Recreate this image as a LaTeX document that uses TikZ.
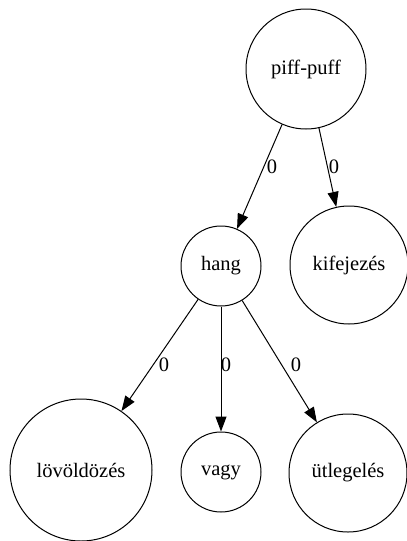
\documentclass[tikz,border=0pt]{standalone}
\usepackage{fontspec}
\setmainfont{Liberation Serif}
\usetikzlibrary{arrows.meta}
\tikzset{
  gnode/.style={draw, circle, line width=1pt, inner sep=0pt, font=\fontsize{20.5}{24}\selectfont},
  gedge/.style={line width=1pt, -{Triangle[length=15pt, width=11pt]}},
  glabel/.style={inner sep=0pt, font=\fontsize{20.5}{24}\selectfont}
}
\begin{document}
\begin{tikzpicture}[x=1pt, y=-1pt]
\useasboundingbox (0,0) rectangle (407,541);
\node[gnode, minimum size=120pt] (pp) at (306,69) {piff-puff};
\node[gnode, minimum size=80pt] (hang) at (221,266) {hang};
\node[gnode, minimum size=118pt] (kif) at (349,265) {kifejezés};
\node[gnode, minimum size=142pt] (lov) at (81,470) {lövöldözés};
\node[gnode, minimum size=80pt] (vagy) at (221,472) {vagy};
\node[gnode, minimum size=118pt] (utl) at (348,473) {ütlegelés};
\draw[gedge] (pp) -- (hang);
\draw[gedge] (pp) -- (kif);
\draw[gedge] (hang) -- (lov);
\draw[gedge] (hang) -- (vagy);
\draw[gedge] (hang) -- (utl);
\node[glabel] (l1) at (272,167) {0};
\node[glabel] (l2) at (334,167) {0};
\node[glabel] (l3) at (164,365) {0};
\node[glabel] (l4) at (226,365) {0};
\node[glabel] (l5) at (296,365) {0};
\end{tikzpicture}
\end{document}
